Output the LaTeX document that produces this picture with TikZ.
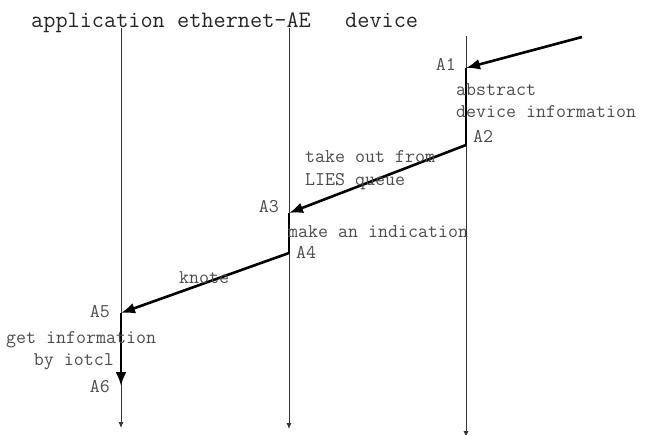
\documentclass[tikz,border=0pt]{standalone}
\usepackage{fontspec}
\usetikzlibrary{arrows.meta}

\begin{document}
\begin{tikzpicture}[x=1pt, y=-1pt,
    title/.style={font=\ttfamily\fontsize{23.6}{27}\selectfont, text=black!85, inner sep=0pt, anchor=base west},
    note/.style={font=\ttfamily\fontsize{19.4}{23}\selectfont, text=black!70, inner sep=0pt},
    lifeline/.style={draw=black!80, line width=0.8pt, -{Latex[length=6pt,width=5pt]}},
    step line/.style={line width=2.6pt},
    message/.style={line width=2.6pt, -{Latex[length=14pt,width=11pt]}}]

    % Fix the page size
    \useasboundingbox (0,0) rectangle (652,434);

    % Define the lifeline positions
    \def\appX{121}
    \def\ethX{289}
    \def\devX{466}

    % Draw the headings
    \node[title] (application) at (31,27) {application};
    \node[title] (ethernet) at (177,27) {ethernet-AE};
    \node[title] (device) at (345,27) {device};

    % Draw the lifelines
    \coordinate (appTop) at (\appX,28);
    \coordinate (appEnd) at (\appX,428);
    \coordinate (ethTop) at (\ethX,28);
    \coordinate (ethEnd) at (\ethX,429);
    \coordinate (devTop) at (\devX,36);
    \coordinate (devEnd) at (\devX,437);
    \draw[lifeline] (appTop) -- (appEnd);
    \draw[lifeline] (ethTop) -- (ethEnd);
    \draw[lifeline] (devTop) -- (devEnd);

    % Define the steps
    \coordinate (start) at (582,37);
    \coordinate (A1) at (\devX,68);
    \coordinate (A2) at (\devX,145);
    \coordinate (A3) at (\ethX,213);
    \coordinate (A4) at (\ethX,253);
    \coordinate (A5) at (\appX,313);
    \coordinate (A6) at (\appX,386);

    % Draw the messages and the processing steps
    \draw[message] (start) -- (A1);
    \draw[step line] (A1) -- (A2);
    \draw[message] (A2) -- (A3);
    \draw[step line] (A3) -- (A4);
    \draw[message] (A4) -- (A5);
    \draw[message] (A5) -- (A6);

    % Label the steps
    \node[note, anchor=base east] (labelA1) at (456,70) {A1};
    \node[note, anchor=base west] (labelA2) at (473,142) {A2};
    \node[note, anchor=base east] (labelA3) at (279,212) {A3};
    \node[note, anchor=base west] (labelA4) at (296,258) {A4};
    \node[note, anchor=base east] (labelA5) at (110,317) {A5};
    \node[note, anchor=base east] (labelA6) at (110,392) {A6};

    % Describe what happens
    \node[note, anchor=base west] (abstract) at (456,95) {abstract};
    \node[note, anchor=base west] (devinfo) at (456,117) {device information};
    \node[note, anchor=base west] (takeout) at (305,162) {take out from};
    \node[note, anchor=base west] (queue) at (305,185) {LIES queue};
    \node[note, anchor=base west] (indication) at (288,237) {make an indication};
    \node[note, anchor=base west] (knote) at (179,283) {knote};
    \node[note, anchor=base west] (getinfo) at (6,343) {get information};
    \node[note, anchor=base east] (iotcl) at (114,365) {by iotcl};

\end{tikzpicture}
\end{document}
